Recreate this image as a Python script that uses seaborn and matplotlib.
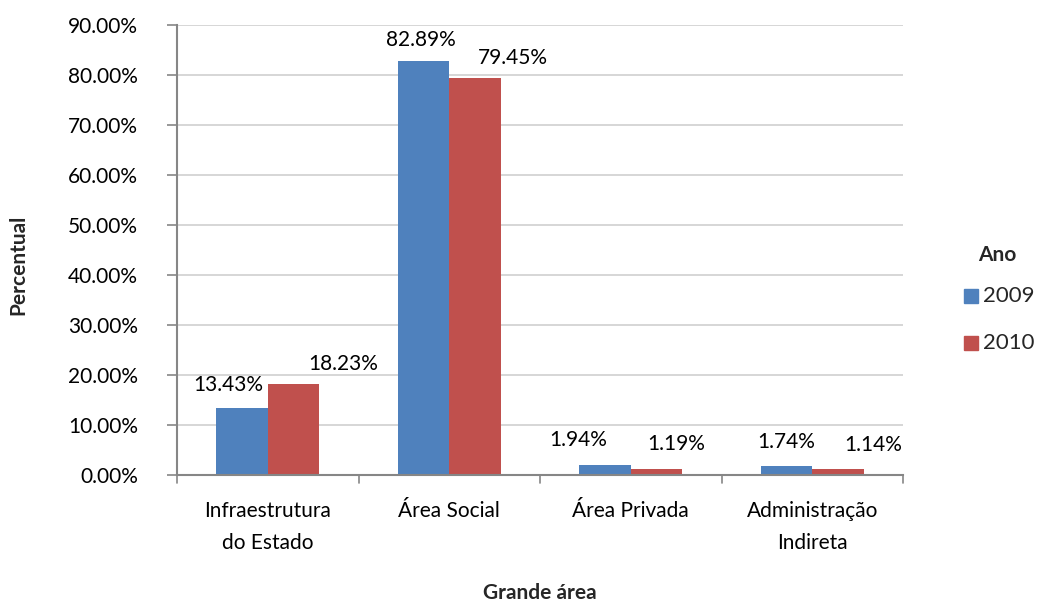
import matplotlib
matplotlib.use("Agg")
import matplotlib.pyplot as plt
import seaborn as sns
import pandas as pd

categories = ["Infraestrutura\ndo Estado", "Área Social", "Área Privada", "Administração\nIndireta"]
years = ["2009", "2010"]
values_2009 = [13.43, 82.89, 1.94, 1.74]
values_2010 = [18.23, 79.45, 1.19, 1.14]
y_ticks = [0, 10, 20, 30, 40, 50, 60, 70, 80, 90]

# label nudges (pixels) relative to the top centre of each bar
label_offsets_2009 = [(-14, -23), (-3, -21), (-27, -25), (0, -24)]
label_offsets_2010 = [(50, -20), (38, -20), (20, -25), (35, -24)]

df = pd.DataFrame({
    "Grande área": categories * 2,
    "Ano": [years[0]] * 4 + [years[1]] * 4,
    "Percentual": values_2009 + values_2010,
})

sns.set_theme(style="white")
plt.rcParams["font.family"] = ["Lato", "DejaVu Sans"]
FS = 15

palette = {"2009": "#4F81BD", "2010": "#C0504D"}
W, H = 1041, 605
fig = plt.figure(figsize=(W / 100, H / 100), dpi=100)
ax = fig.add_axes([177 / W, (H - 475) / H, 726 / W, 450 / H])

sns.barplot(data=df, x="Grande área", y="Percentual", hue="Ano", palette=palette,
            width=0.567, gap=0, saturation=1, ax=ax, legend=False, linewidth=0)

ax.set_ylim(0, 90)
ax.set_xlim(-0.5, 3.5)
ax.set_yticks(y_ticks)
ax.set_yticklabels([f"{t:.2f}%" for t in y_ticks], fontsize=FS, color="black")
ax.set_xticks([0, 1, 2, 3])
ax.set_xticklabels(categories, fontsize=FS, color="black", linespacing=1.75)
ax.tick_params(axis="x", length=0, pad=19)
ax.tick_params(axis="y", length=7, width=1.2, color="#868686", pad=21, direction="out", left=True)
# category boundary ticks
for b in [-0.5, 0.5, 1.5, 2.5, 3.5]:
    ax.plot([b, b], [0, -1.5], color="#868686", lw=1.2, clip_on=False)

ax.yaxis.grid(True, color="#D0D0D0", lw=1.2)
ax.set_axisbelow(True)
for s in ["top", "right"]:
    ax.spines[s].set_visible(False)
for s in ["left", "bottom"]:
    ax.spines[s].set_color("#868686")
    ax.spines[s].set_linewidth(1.5)

ax.set_xlabel("")
ax.set_ylabel("")
fig.text(18 / W, 1 - 265 / H, "Percentual", rotation=90, ha="center", va="center",
         fontsize=FS, fontweight="bold")
fig.text(540 / W, 1 - 593 / H, "Grande área", ha="center", va="center",
         fontsize=FS, fontweight="bold")

# data labels
containers = ax.containers
for cont, vals, offs in zip(containers, [values_2009, values_2010],
                            [label_offsets_2009, label_offsets_2010]):
    for bar, v, (dx, dy) in zip(cont, vals, offs):
        x = bar.get_x() + bar.get_width() / 2
        ax.annotate(f"{v:.2f}%", xy=(x, v), xytext=(dx * 0.72, -dy * 0.72),
                    textcoords="offset points", ha="center", va="center",
                    fontsize=FS, color="black", annotation_clip=False)

# legend
fig.text(997 / W, 1 - 255 / H, "Ano", ha="center", va="center", fontsize=FS, fontweight="bold")
for yr, yp in zip(years, [296, 343]):
    fig.patches.append(plt.Rectangle((964 / W, 1 - (yp + 7) / H), 14 / W, 14 / H,
                                     transform=fig.transFigure, color=palette[yr]))
    fig.text(983 / W, 1 - yp / H, yr, ha="left", va="center", fontsize=FS + 1)

fig.savefig("out.png", dpi=100)
